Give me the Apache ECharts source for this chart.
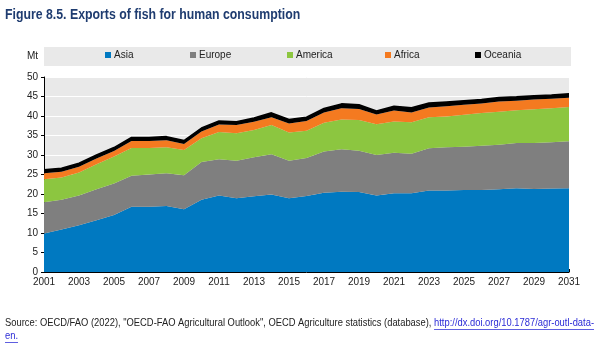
<!DOCTYPE html>
<html><head><meta charset="utf-8">
<script src="https://cdn.jsdelivr.net/npm/echarts@6/dist/echarts.min.js"></script>
<style>html,body{margin:0;padding:0;background:#fff}#c{width:600px;height:348px}</style>
</head><body><div id="c"></div>
<script>
var years = ['2001','2002','2003','2004','2005','2006','2007','2008','2009','2010','2011','2012','2013','2014','2015','2016','2017','2018','2019','2020','2021','2022','2023','2024','2025','2026','2027','2028','2029','2030','2031'];
var asia    = [9.9,10.9,12.0,13.3,14.6,16.7,16.7,16.9,16.1,18.5,19.6,18.9,19.4,19.9,18.9,19.5,20.3,20.6,20.5,19.6,20.2,20.2,20.9,20.9,21.0,21.0,21.2,21.5,21.3,21.4,21.5];
var europe  = [8.0,7.6,7.6,7.9,8.1,8.0,8.3,8.4,8.7,9.7,9.3,9.6,10.0,10.3,9.6,9.7,10.6,10.9,10.6,10.4,10.4,10.1,10.8,11.1,11.1,11.4,11.4,11.6,11.8,11.9,12.0];
var america = [5.9,5.7,5.9,6.4,6.9,7.1,6.8,6.7,6.5,6.1,7.0,7.1,7.0,7.5,7.3,7.0,7.4,7.6,7.9,7.9,8.0,8.1,8.0,7.9,8.2,8.4,8.5,8.4,8.6,8.7,8.8];
var africa  = [1.5,1.5,1.5,1.5,1.4,1.8,1.8,1.8,1.5,1.7,1.9,2.1,2.1,2.0,2.3,2.5,2.6,2.9,2.8,2.5,2.8,2.5,2.5,2.6,2.6,2.4,2.6,2.4,2.5,2.4,2.4];
var oceania = [0.9,0.9,0.9,0.9,0.9,0.9,0.9,0.9,0.9,0.9,0.9,0.8,1.0,1.1,1.0,1.0,1.0,1.1,1.1,0.9,1.1,1.2,1.1,1.1,1.0,1.0,1.0,1.0,1.0,1.0,1.0];
var seriesNames = ['Asia','Europe','America','Africa','Oceania'];
var yTicks = {min:0, max:50, interval:5};
var titleText = 'Figure 8.5. Exports of fish for human consumption';
var sourceText = 'Source: OECD/FAO (2022), "OECD-FAO Agricultural Outlook", OECD Agriculture statistics (database), ';
var linkText1 = 'http://dx.doi.org/10.1787/agr-outl-data-';
var linkText2 = 'en.';

var colors = ['#0079c1','#7f7f7f','#8cc640','#f47a20','#000000'];
var dataSets = [asia, europe, america, africa, oceania];
var legendLeft = [105,190,287,385,475];
var font = 'Liberation Sans, Arial, sans-serif';
var srcFont = '10.5px Liberation Sans, Arial, sans-serif';
var linkColor = '#2b2bd6';

var ctx = document.createElement('canvas').getContext('2d');
ctx.font = srcFont;
var w1 = ctx.measureText(sourceText).width;
var w2 = ctx.measureText(linkText1).width;
var w3 = ctx.measureText(linkText2).width;
var srcScale = 589 / (w1 + w2);

var chart = echarts.init(document.getElementById('c'), null, {renderer:'canvas'});
var series = seriesNames.map(function(n,i){
  return {
    name:n, type:'line', stack:'total', data:dataSets[i], showSymbol:false, symbol:'none',
    lineStyle: i===4 ? {width:1.6,color:'#000'} : {width:0},
    itemStyle:{color:colors[i]},
    areaStyle:{color:colors[i], opacity:1},
    emphasis:{disabled:true}, animation:false
  };
});
var legends = seriesNames.map(function(n,i){
  return {data:[n], left:legendLeft[i], top:50, itemWidth:6, itemHeight:6, icon:'rect',
    itemGap:0, padding:0, textStyle:{fontFamily:font, fontSize:10, color:'#222', padding:[0,0,0,-2]}, selectedMode:false};
});
chart.setOption({
  animation:false,
  legend: legends,
  graphic:[
    {type:'text', x:5, y:7, scaleX:0.82, style:{text:titleText, font:'bold 15px Liberation Sans, Arial, sans-serif', fill:'#1f3c70'}},
    {type:'rect', z:-10, shape:{x:44,y:47,width:527,height:19}, style:{fill:'#e9e9e9'}},
    {type:'text', left:27, top:51, style:{text:'Mt', font:'10px '+font, fill:'#222'}},
    {type:'group', x:5, y:318, scaleX:srcScale, children:[
      {type:'text', x:0, y:0, style:{text:sourceText, font:srcFont, fill:'#222'}},
      {type:'text', x:w1, y:0, style:{text:linkText1, font:srcFont, fill:linkColor}},
      {type:'line', shape:{x1:w1, y1:11.5, x2:w1+w2, y2:11.5}, style:{stroke:linkColor, lineWidth:0.8}},
      {type:'text', x:0, y:13, style:{text:linkText2, font:srcFont, fill:linkColor}},
      {type:'line', shape:{x1:0, y1:24.5, x2:w3, y2:24.5}, style:{stroke:linkColor, lineWidth:0.8}}
    ]}
  ],
  grid:{left:44, right:31, top:77, bottom:76, show:true, backgroundColor:'#e9e9e9', borderWidth:0},
  xAxis:{type:'category', data:years, boundaryGap:false,
    axisLine:{lineStyle:{color:'#000',width:1}},
    axisTick:{show:true, inside:true, length:3, interval:0, lineStyle:{color:'#000'}},
    axisLabel:{interval:1, fontFamily:font, fontSize:10, color:'#222', margin:5},
    splitLine:{show:false}},
  yAxis:{type:'value', min:yTicks.min, max:yTicks.max, interval:yTicks.interval,
    axisLine:{show:true, lineStyle:{color:'#000',width:1}},
    axisTick:{show:true, length:3, lineStyle:{color:'#000'}},
    axisLabel:{fontFamily:font, fontSize:10, color:'#222', margin:6},
    splitLine:{show:true, lineStyle:{color:'#ffffff', width:1}}},
  series: series
});
</script></body></html>
